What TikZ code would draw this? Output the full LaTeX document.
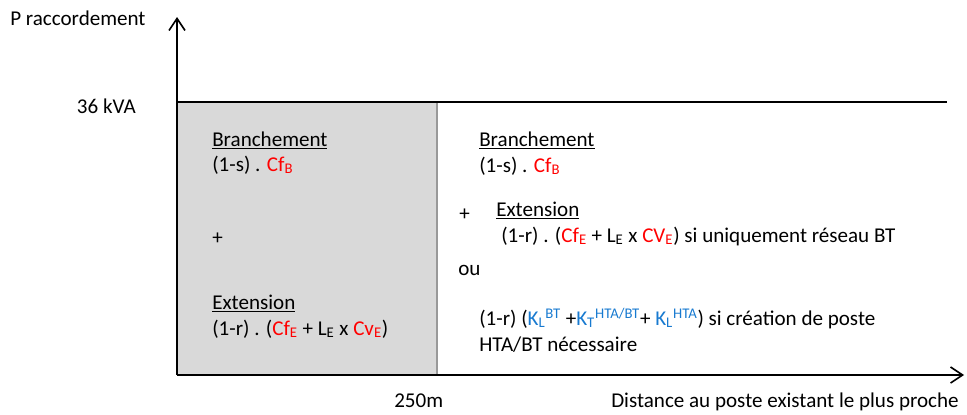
\documentclass[tikz,border=0pt]{standalone}
\usepackage{fontspec}
\setmainfont{Carlito}
\usepackage{xcolor}
\usetikzlibrary{arrows.meta,positioning}

\definecolor{cfred}{RGB}{255,0,0}
\definecolor{kblue}{RGB}{24,122,208}
\definecolor{zonegray}{RGB}{217,217,217}
\newcommand{\redtxt}[1]{\textcolor{cfred}{#1}}
\newcommand{\bluetxt}[1]{\textcolor{kblue}{#1}}
\newcommand{\sub}[1]{\textsubscript{#1}}
\newcommand{\sups}[1]{\textsuperscript{#1}}

\begin{document}
\begin{tikzpicture}[
    x=0.75pt, y=-0.75pt,
    every node/.style={font=\fontsize{15.8}{18}\selectfont},
    txt/.style={anchor=base west, inner sep=0pt},
    axis/.style={line width=1.5pt, -{Straight Barb[length=9pt, width=12pt, line width=1.2pt]}},
    limit/.style={line width=1.5pt}
]
    \useasboundingbox (0,0) rectangle (967,414);

    % axes
    \coordinate (origin) at (177,375);
    \coordinate (ytop) at (177,17);
    \coordinate (xend) at (964,375);
    \coordinate (lim0) at (177,102);
    \coordinate (lim1) at (947,102);
    \coordinate (cut) at (437,375);

    \fill[zonegray] (lim0) rectangle (cut);
    \draw[gray!80, line width=0.8pt] (cut) -- (437,102);
    \draw[limit] (lim0) -- (lim1);
    \draw[axis] (origin) -- (ytop);
    \draw[axis] (origin) -- (xend);

    \node[txt] (pr) at (10,26) {P raccordement};
    \node[txt, anchor=base east] (kva) at (136,113) {36 kVA};
    \node[txt] (dist250) at (394,407) {250m};
    \node[txt] (dist) at (611,407) {Distance au poste existant le plus proche};

    % zone < 250m
    \node[txt] (lbr) at (212,146) {\underline{Branchement}};
    \node[txt] (lbrf) at (212,171) {(1-s) . \redtxt{Cf\sub{B}}};
    \node[txt] (lplus) at (212,244) {+};
    \node[txt] (lext) at (212,309) {\underline{Extension}};
    \node[txt] (lextf) at (212,335) {(1-r) . (\redtxt{Cf\sub{E}} + L\sub{E} x \redtxt{Cv\sub{E}})};

    % zone > 250m
    \node[txt] (rbr) at (479,146) {\underline{Branchement}};
    \node[txt] (rbrf) at (479,172) {(1-s) . \redtxt{Cf\sub{B}}};
    \node[txt] (rplus) at (459,220) {+};
    \node[txt] (rext) at (496,216) {\underline{Extension}};
    \node[txt] (rextf) at (501,242) {(1-r) . (\redtxt{Cf\sub{E}} + L\sub{E} x \redtxt{CV\sub{E}}) si uniquement réseau BT};
    \node[txt] (rou) at (458,275) {ou};
    \node[txt] (rposte) at (479,325) {(1-r) (\bluetxt{K\sub{L}\sups{BT}} +\bluetxt{K\sub{T}\sups{HTA/BT}}+ \bluetxt{K\sub{L}\sups{HTA}}) si création de poste};
    \node[txt] (rposte2) at (479,351) {HTA/BT nécessaire};
\end{tikzpicture}
\end{document}
